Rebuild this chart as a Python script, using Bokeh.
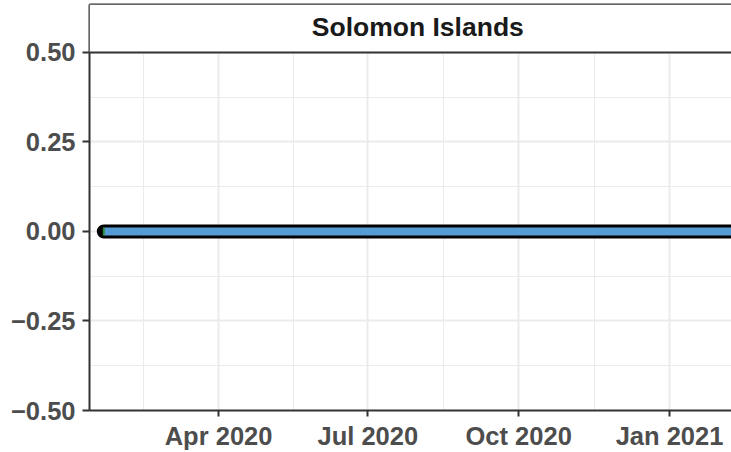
import pandas as pd
from bokeh.plotting import figure
from bokeh.models import (Range1d, FixedTicker, Span, Label, BoxAnnotation, LinearAxis,
                          DatetimeTickFormatter, ColumnDataSource)
from bokeh.embed import file_html
from bokeh.resources import INLINE

# ---- data -------------------------------------------------------------
panel_title = "Solomon Islands"
dates = ["2020-01-22", "2020-03-01", "2020-05-01", "2020-07-01", "2020-09-01",
         "2020-11-01", "2021-01-01", "2021-02-15"]
values = [0, 0, 0, 0, 0, 0, 0, 0]

x_tick_dates = ["2020-04-01", "2020-07-01", "2020-10-01", "2021-01-01"]
x_tick_labels = ["Apr 2020", "Jul 2020", "Oct 2020", "Jan 2021"]
x_minor_dates = ["2020-02-15 12:00", "2020-05-16 12:00", "2020-08-16", "2020-11-16"]
y_ticks = [-0.5, -0.25, 0.0, 0.25, 0.5]
y_tick_labels = ["\u22120.50", "\u22120.25", "0.00", "0.25", "0.50"]
y_minor = [-0.375, -0.125, 0.125, 0.375]


def ms(s):
    return pd.Timestamp(s).value / 1e6


src = ColumnDataSource(dict(x=[ms(d) for d in dates], y=values))

x_start, x_end = ms("2020-01-13 07:00"), ms("2021-02-07 19:00")
y_start, y_end = -0.5, 0.6337

p = figure(width=731, height=452, output_backend="svg", toolbar_location=None,
           x_axis_type="datetime",
           x_range=Range1d(x_start, x_end), y_range=Range1d(y_start, y_end),
           min_border_left=89, min_border_right=0, min_border_top=4,
           min_border_bottom=41)
p.outline_line_color = None
p.background_fill_color = "white"
p.border_fill_color = "white"

FONT = "Liberation Sans"
GRID = "#EBEBEB"
DARK = "#333333"

# x axis
p.xaxis.ticker = FixedTicker(ticks=[ms(d) for d in x_tick_dates],
                             minor_ticks=[ms(d) for d in x_minor_dates])
p.xaxis.major_label_overrides = {ms(d): l for d, l in zip(x_tick_dates, x_tick_labels)}
p.xaxis.formatter = DatetimeTickFormatter(months="%b %Y", days="%b %Y", years="%b %Y")
# y axis
p.yaxis.ticker = FixedTicker(ticks=y_ticks, minor_ticks=y_minor)
p.yaxis.major_label_overrides = {t: l for t, l in zip(y_ticks, y_tick_labels)}

for ax in (p.xaxis, p.yaxis):
    ax.axis_line_color = DARK
    ax.axis_line_width = 2
    ax.major_tick_line_color = DARK
    ax.major_tick_line_width = 2
    ax.major_tick_in = 0
    ax.minor_tick_line_color = None
    ax.major_label_text_font = FONT
    ax.major_label_text_font_style = "bold"
    ax.major_label_text_font_size = "25.5px"
    ax.major_label_text_color = "#4D4D4D"
p.yaxis.major_tick_out = 7
p.yaxis.major_label_standoff = 7
p.xaxis.major_tick_out = 6
p.xaxis.major_label_standoff = 5

# top border of the strip: a bare axis above the frame
top_axis = LinearAxis(ticker=FixedTicker(ticks=[]), axis_line_color=DARK,
                      axis_line_width=2, major_tick_line_color=None,
                      minor_tick_line_color=None, major_label_text_font_size="0px",
                      major_tick_out=0, major_label_standoff=0)
p.add_layout(top_axis, "above")

for g in (p.xgrid, p.ygrid):
    g.grid_line_color = GRID
    g.grid_line_width = 2
    g.minor_grid_line_color = GRID
    g.minor_grid_line_width = 1

# data line: black outline, blue core, green start marker
p.line("x", "y", source=src, line_color="black", line_width=14, line_cap="round")
p.line("x", "y", source=src, line_color="#569BD6", line_width=8, line_cap="butt")
p.rect(x=[ms(dates[0])], y=[values[0]], width=2, height=8,
       width_units="screen", height_units="screen",
       fill_color="#2E8B3A", line_color=None)

# strip (facet title) area
p.add_layout(BoxAnnotation(bottom=0.5, top=y_end, fill_color="white", fill_alpha=1.0,
                           line_color=None))
p.add_layout(Span(location=0.5, dimension="width", line_color=DARK, line_width=2))
p.add_layout(Label(x=ms("2020-07-31 12:00"), y=0.5716, text=panel_title,
                   text_align="center", text_baseline="alphabetic",
                   text_font=FONT, text_font_style="bold", text_font_size="26.5px",
                   text_color="#1A1A1A"))

open("out.html", "w").write(file_html(p, INLINE))
